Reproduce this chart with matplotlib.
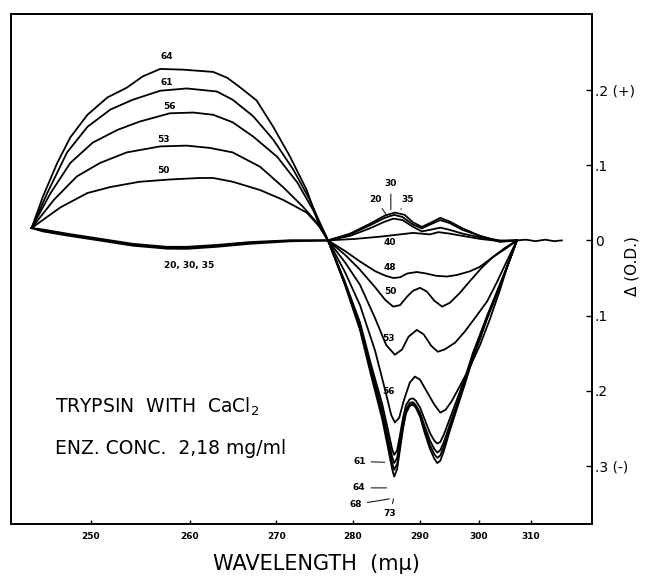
import numpy as np
import matplotlib.pyplot as plt

# wavelength scale of the recorder chart is compressed toward long wavelengths
K = 0.01295


def fwd(w):
    return 1.0 - np.exp(-K * (np.asarray(w, dtype=float) - 250.0))


def inv(u):
    u = np.clip(np.asarray(u, dtype=float), None, 0.999)
    return 250.0 - np.log(1.0 - u) / K


# ---- left side (below 277 mu): positive curves 50..64, small negative 20/30/35
wl_64 = [244.6, 245.6, 246.9, 248.1, 249.7, 251.6, 253.5, 255.1, 256.9, 259.3, 262.6, 264.2, 265.6, 267.6, 269.6, 271.7, 273.8, 275.3, 276.6]
od_64 = [0.0165, 0.058, 0.103, 0.137, 0.167, 0.190, 0.203, 0.218, 0.228, 0.227, 0.224, 0.216, 0.204, 0.186, 0.151, 0.111, 0.067, 0.024, 0.0]

wl_61 = [244.6, 246.0, 247.8, 249.7, 251.9, 254.1, 256.9, 259.7, 263.0, 264.8, 267.2, 269.6, 272.1, 274.2, 275.5, 276.6]
od_61 = [0.0165, 0.063, 0.117, 0.151, 0.174, 0.187, 0.199, 0.202, 0.198, 0.187, 0.165, 0.134, 0.094, 0.054, 0.024, 0.0]

wl_56 = [244.6, 246.3, 248.1, 250.2, 252.6, 254.8, 257.9, 260.4, 262.6, 264.8, 267.2, 270.1, 272.6, 274.6, 276.6]
od_56 = [0.0165, 0.063, 0.103, 0.130, 0.147, 0.158, 0.169, 0.170, 0.167, 0.157, 0.138, 0.111, 0.077, 0.041, 0.0]

wl_53 = [244.6, 246.6, 248.7, 250.9, 253.5, 256.9, 259.7, 262.2, 264.8, 268.0, 270.8, 273.3, 275.1, 276.6]
od_53 = [0.0165, 0.054, 0.085, 0.103, 0.117, 0.125, 0.126, 0.123, 0.117, 0.098, 0.071, 0.045, 0.024, 0.0]

wl_50 = [244.6, 247.2, 249.7, 251.9, 254.8, 257.9, 261.1, 262.6, 264.8, 268.0, 270.8, 273.8, 275.5, 276.6]
od_50 = [0.0165, 0.044, 0.063, 0.071, 0.078, 0.081, 0.083, 0.083, 0.078, 0.067, 0.054, 0.037, 0.018, 0.0]

wl_low = [244.6, 245.6, 247.8, 250.9, 254.1, 257.6, 259.7, 263.0, 266.8, 271.7, 276.6]
od_20 = [0.0165, 0.013, 0.0076, 0.001, -0.0057, -0.0097, -0.0097, -0.0070, -0.0031, -0.0004, 0.0]
od_30 = [0.0165, 0.012, 0.0065, -0.0002, -0.0070, -0.0110, -0.0112, -0.0085, -0.0045, -0.0012, 0.0]
od_35 = [0.0165, 0.0145, 0.0090, 0.0022, -0.0045, -0.0085, -0.0085, -0.0060, -0.0022, 0.0002, 0.0]

# ---- right side (277..307 mu)
wl_r20 = [276.6, 279.6, 282.4, 284.6, 285.9, 287.3, 288.9, 290.3, 291.6, 293.3, 294.9, 297.1, 300.2, 303.9, 307.2]
od_r20 = [0.0, 0.006, 0.016, 0.025, 0.029, 0.027, 0.018, 0.012, 0.014, 0.017, 0.014, 0.009, 0.004, 0.0, 0.0]
wl_r30 = [276.6, 279.6, 282.4, 284.6, 286.0, 287.3, 288.9, 290.3, 291.6, 293.3, 294.9, 297.1, 300.2, 303.9, 307.2]
od_r30 = [0.0, 0.008, 0.020, 0.030, 0.034, 0.031, 0.021, 0.016, 0.021, 0.027, 0.023, 0.014, 0.006, -0.001, 0.0]
wl_r35 = [276.6, 279.6, 282.4, 284.6, 286.1, 287.6, 288.9, 290.3, 291.6, 293.3, 294.9, 297.1, 300.2, 303.9, 307.2]
od_r35 = [0.0, 0.009, 0.022, 0.033, 0.037, 0.034, 0.024, 0.018, 0.023, 0.030, 0.025, 0.016, 0.006, -0.002, 0.0]
wl_r40 = [276.6, 280.3, 283.9, 286.9, 288.9, 291.6, 293.0, 294.9, 297.1, 300.2, 303.9, 307.2]
od_r40 = [0.0, 0.002, 0.005, 0.008, 0.010, 0.008, 0.011, 0.009, 0.006, 0.002, -0.001, 0.0]

wl_48 = [276.6, 278.9, 281.0, 283.2, 284.7, 285.9, 286.9, 288.0, 289.5, 291.0, 292.6, 294.4, 296.1, 298.4, 300.2, 302.6, 305.2, 307.2]
od_48 = [0.0, -0.014, -0.028, -0.041, -0.047, -0.050, -0.049, -0.044, -0.042, -0.044, -0.047, -0.048, -0.046, -0.041, -0.035, -0.022, -0.010, 0.0]

wl_50r = [276.6, 278.9, 281.0, 283.15, 284.65, 285.85, 286.9, 287.95, 288.9, 290.0, 291.1, 292.3, 293.6, 294.9, 296.6, 298.4, 300.55, 302.6, 304.85, 307.2]
od_50r = [0.0, -0.019, -0.039, -0.062, -0.079, -0.088, -0.086, -0.075, -0.067, -0.063, -0.068, -0.080, -0.088, -0.083, -0.070, -0.054, -0.036, -0.022, -0.010, 0.0]

wl_53r = [276.6, 278.9, 281.0, 283.15, 284.8, 286.1, 287.2, 288.2, 289.5, 290.6, 291.8, 292.9, 294.0, 295.8, 297.5, 299.3, 301.5, 303.3, 305.2, 307.2]
od_53r = [0.0, -0.029, -0.059, -0.103, -0.139, -0.152, -0.145, -0.128, -0.119, -0.125, -0.140, -0.148, -0.145, -0.136, -0.121, -0.103, -0.081, -0.056, -0.028, 0.0]

wl_56r = [276.6, 278.9, 281.0, 283.15, 284.65, 285.55, 286.1, 286.75, 287.5, 288.4, 289.2, 290.0, 291.1, 292.3, 293.3, 294.2, 295.2, 296.6, 298.4, 300.2, 302.0, 303.9, 305.4, 307.2]
od_56r = [0.0, -0.042, -0.086, -0.146, -0.199, -0.232, -0.242, -0.236, -0.212, -0.189, -0.181, -0.185, -0.201, -0.218, -0.229, -0.225, -0.214, -0.194, -0.168, -0.139, -0.105, -0.066, -0.033, 0.0]

wl_neg = [276.6, 278.9, 281.0, 282.55, 284.2, 285.1, 285.7, 286.0, 286.45, 286.9, 287.35, 287.8, 288.4, 288.9, 289.35, 290.0, 290.8, 291.6, 292.3, 292.8, 293.3, 293.9, 294.9, 296.1, 297.5, 298.9, 300.2, 301.5, 302.95, 304.85, 307.2]
od_61r = [0.0, -0.055, -0.109, -0.164, -0.217, -0.253, -0.278, -0.285, -0.279, -0.258, -0.236, -0.219, -0.211, -0.210, -0.213, -0.222, -0.239, -0.256, -0.266, -0.270, -0.268, -0.258, -0.237, -0.212, -0.183, -0.150, -0.125, -0.100, -0.075, -0.042, 0.0]
od_64r = [0.0, -0.057, -0.113, -0.170, -0.225, -0.263, -0.288, -0.296, -0.289, -0.266, -0.243, -0.225, -0.216, -0.215, -0.219, -0.229, -0.248, -0.266, -0.277, -0.282, -0.279, -0.268, -0.245, -0.218, -0.187, -0.153, -0.127, -0.102, -0.076, -0.043, 0.0]
od_68r = [0.0, -0.058, -0.116, -0.174, -0.231, -0.270, -0.296, -0.305, -0.297, -0.272, -0.247, -0.228, -0.219, -0.217, -0.221, -0.232, -0.253, -0.272, -0.284, -0.289, -0.286, -0.274, -0.249, -0.221, -0.189, -0.155, -0.129, -0.103, -0.077, -0.043, 0.0]
od_73r = [0.0, -0.059, -0.119, -0.178, -0.237, -0.277, -0.304, -0.314, -0.304, -0.277, -0.250, -0.230, -0.220, -0.2185, -0.2225, -0.234, -0.257, -0.277, -0.290, -0.296, -0.293, -0.280, -0.253, -0.224, -0.191, -0.157, -0.131, -0.104, -0.078, -0.044, 0.0]

wl_tail = [307.2, 309.0, 311.0, 313.0, 315.0, 316.7]
od_tail = [0.0, 0.001, -0.001, 0.001, -0.001, 0.0]

fig = plt.figure(figsize=(6.45, 5.78), dpi=100)
ax = fig.add_axes([11 / 645, 1 - 524 / 578, 581 / 645, 510 / 578])
ax.set_xscale('function', functions=(fwd, inv))
ax.set_xlim(242.8, 323.8)
ax.set_ylim(-0.377, 0.301)

kw = dict(color='black', lw=1.3, solid_joinstyle='round')
for wl, od in [(wl_64, od_64), (wl_61, od_61), (wl_56, od_56), (wl_53, od_53), (wl_50, od_50),
               (wl_low, od_20), (wl_low, od_30), (wl_low, od_35),
               (wl_r20, od_r20), (wl_r30, od_r30), (wl_r35, od_r35), (wl_r40, od_r40),
               (wl_48, od_48), (wl_50r, od_50r), (wl_53r, od_53r), (wl_56r, od_56r),
               (wl_neg, od_61r), (wl_neg, od_64r), (wl_neg, od_68r), (wl_neg, od_73r),
               (wl_tail, od_tail)]:
    ax.plot(wl, od, **kw)

# curve labels
small = dict(fontsize=6.5, fontweight='bold', ha='center', va='center')
for s, x, y in [('64', 257.6, 0.244), ('61', 257.6, 0.210), ('56', 257.9, 0.178),
                ('53', 257.2, 0.134), ('50', 257.2, 0.093)]:
    ax.text(x, y, s, **small)
ax.text(260.0, -0.033, '20, 30, 35', **small)
for s, x, y in [('40', 285.4, -0.003), ('48', 285.3, -0.036), ('50', 285.4, -0.068),
                ('53', 285.1, -0.131), ('56', 285.1, -0.201)]:
    ax.text(x, y, s, **small)

lead = dict(arrowstyle='-', lw=0.7)
ax.annotate('30', xy=(285.5, 0.037), xytext=(285.5, 0.075), arrowprops=lead, **small)
ax.annotate('20', xy=(285.0, 0.032), xytext=(283.2, 0.055), arrowprops=lead, **small)
ax.annotate('35', xy=(286.8, 0.038), xytext=(288.0, 0.055), arrowprops=lead, **small)
ax.annotate('61', xy=(285.0, -0.295), xytext=(280.9, -0.294), arrowprops=lead, **small)
ax.annotate('64', xy=(285.3, -0.329), xytext=(280.9, -0.329), arrowprops=lead, **small)
ax.annotate('68', xy=(285.7, -0.343), xytext=(280.4, -0.351), arrowprops=lead, **small)
ax.annotate('73', xy=(286.0, -0.340), xytext=(285.4, -0.363), arrowprops=lead, **small)

ax.text(246.7, -0.221, 'TRYPSIN  WITH  CaCl$_2$', fontsize=13.5, va='center')
ax.text(246.7, -0.277, 'ENZ. CONC.  2,18 mg/ml', fontsize=13.5, va='center')

# axes
ax.yaxis.tick_right()
ax.set_yticks([0.2, 0.1, 0.0, -0.1, -0.2, -0.3])
ax.set_yticklabels(['.2 (+)', '.1', '0', '.1', '.2', '.3 (-)'], fontsize=10)
ax.set_xticks([250, 260, 270, 280, 290, 300, 310])
ax.set_xticklabels(['250', '260', '270', '280', '290', '300', '310'], fontsize=6.5, fontweight='bold')
ax.tick_params(axis='y', direction='in', length=4, width=1, pad=2)
ax.tick_params(axis='x', direction='in', length=3, width=1, pad=6)
ax.minorticks_off()
for sp in ax.spines.values():
    sp.set_linewidth(1.4)

fig.text(632 / 645, 1 - 266 / 578, 'Δ (O.D.)', rotation=90, fontsize=11, ha='center', va='center')
fig.text(316 / 645, 1 - 564 / 578, 'WAVELENGTH  (mμ)', fontsize=15, ha='center', va='center')

fig.savefig('out.png', dpi=100)
